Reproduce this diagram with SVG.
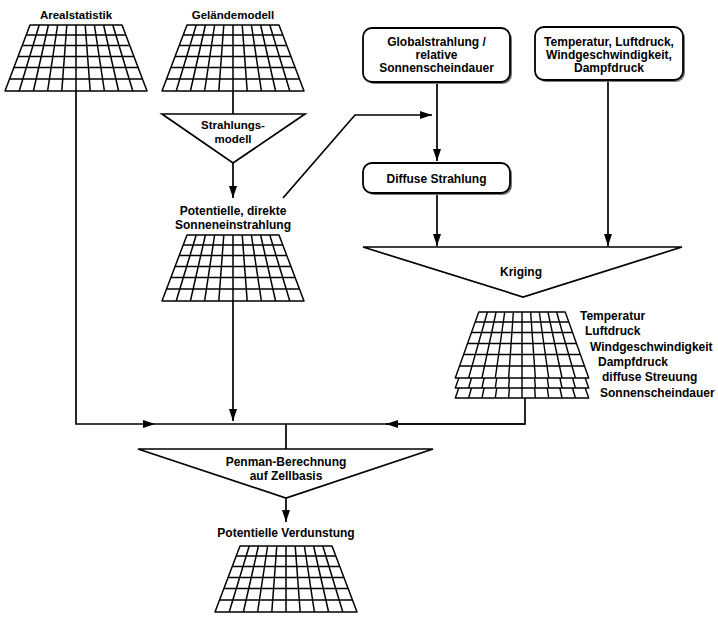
<svg xmlns="http://www.w3.org/2000/svg" xmlns:xlink="http://www.w3.org/1999/xlink" width="718" height="624" viewBox="0 0 718 624">
  <style>
    text { font-family: "Liberation Sans", Arial, sans-serif; font-weight: bold; font-size: 12px; fill: #000; }
    .mid { text-anchor: middle; }
    .head { font-size: 11.5px; }
    .small { font-size: 11.5px; }
    .grid { fill: #fff; stroke: #000; stroke-width: 1.5; stroke-linejoin: round; }
    .shape { fill: #fff; stroke: #000; stroke-width: 1.7; stroke-linejoin: miter; }
    .box { fill: #fff; stroke: #000; stroke-width: 1.8; }
    .shadow { fill: #7a7a7a; }
    .wire { fill: none; stroke: #000; stroke-width: 1.7; }
  </style>
  <defs>
    <!-- raster grid drawn in perspective, anchored at the centre of its top edge -->
    <g id="grid">
      <path class="grid" d="M-46,0 H46 L71,66 H-71 Z"/>
      <path class="grid" fill="none" d="M-49.8,10 H49.8 M-53.8,20.5 H53.8 M-57.9,31.5 H57.9 M-62.1,42.5 H62.1 M-66.5,54 H66.5
        M-36.8,0 L-56.8,66 M-27.6,0 L-42.6,66 M-18.4,0 L-28.4,66 M-9.2,0 L-14.2,66 M0,0 V66
        M9.2,0 L14.2,66 M18.4,0 L28.4,66 M27.6,0 L42.6,66 M36.8,0 L56.8,66"/>
    </g>
    <marker id="arrow" markerUnits="userSpaceOnUse" viewBox="0 0 12 8" refX="12" refY="4" markerWidth="12" markerHeight="8" orient="auto">
      <path d="M0,0 L12,4 L0,8 Z" fill="#000"/>
    </marker>
  </defs>

  <!-- connectors -->
  <g id="connectors">
    <path class="wire" d="M76,91 V424 H155" marker-end="url(#arrow)"/>
    <path class="wire" d="M155,424 H525"/>
    <path class="wire" d="M525,398 V424 H386" marker-end="url(#arrow)"/>
    <path class="wire" d="M233,91 V114"/>
    <path class="wire" d="M233,163 V198" marker-end="url(#arrow)"/>
    <path class="wire" d="M233,300 V421" marker-end="url(#arrow)"/>
    <path class="wire" d="M283,198 L355,115 H432" marker-end="url(#arrow)"/>
    <path class="wire" d="M437,82 V161" marker-end="url(#arrow)"/>
    <path class="wire" d="M437,193 V246" marker-end="url(#arrow)"/>
    <path class="wire" d="M608,80 V246" marker-end="url(#arrow)"/>
    <path class="wire" d="M286,424 V449"/>
    <path class="wire" d="M286,498 V522" marker-end="url(#arrow)"/>
  </g>

  <g id="arealstatistik">
    <text class="mid head" x="76" y="19">Arealstatistik</text>
    <use xlink:href="#grid" transform="translate(76,25)"/>
  </g>

  <g id="gelaendemodell">
    <text class="mid head" x="233" y="19">Geländemodell</text>
    <use xlink:href="#grid" transform="translate(233,25)"/>
  </g>

  <g id="strahlungsmodell">
    <path class="shape" d="M162,114 H305 L233,163 Z"/>
    <text class="mid small" x="233" y="129">Strahlungs-</text>
    <text class="mid small" x="233" y="143">modell</text>
  </g>

  <g id="direkte-einstrahlung">
    <text class="mid" x="233" y="215">Potentielle, direkte</text>
    <text class="mid" x="233" y="229">Sonneneinstrahlung</text>
    <use xlink:href="#grid" transform="translate(233,235)"/>
  </g>

  <g id="globalstrahlung">
    <rect class="shadow" x="365" y="30" width="147" height="54" rx="9"/>
    <rect class="box" x="363" y="28" width="147" height="54" rx="9"/>
    <text class="mid" x="436.5" y="46">Globalstrahlung /</text>
    <text class="mid" x="436.5" y="59">relative</text>
    <text class="mid" x="436.5" y="72">Sonnenscheindauer</text>
  </g>

  <g id="klimadaten">
    <rect class="shadow" x="537" y="29" width="148" height="53" rx="9"/>
    <rect class="box" x="535" y="27" width="148" height="53" rx="9"/>
    <text class="mid" x="609" y="46">Temperatur, Luftdruck,</text>
    <text class="mid" x="609" y="59">Windgeschwindigkeit,</text>
    <text class="mid" x="609" y="72">Dampfdruck</text>
  </g>

  <g id="diffuse-strahlung">
    <rect class="shadow" x="365" y="165" width="147" height="30" rx="9"/>
    <rect class="box" x="363" y="163" width="147" height="30" rx="9"/>
    <text class="mid" x="436.5" y="183">Diffuse Strahlung</text>
  </g>

  <g id="kriging">
    <path class="shape" d="M363,247 H682 L523,297 Z"/>
    <text class="mid" x="521" y="276">Kriging</text>
  </g>

  <g id="rasterstapel">
    <use xlink:href="#grid" transform="translate(522,332) scale(0.94,1)"/>
    <use xlink:href="#grid" transform="translate(522,322) scale(0.94,1)"/>
    <use xlink:href="#grid" transform="translate(522,312) scale(0.94,1)"/>
    <text x="580" y="320">Temperatur</text>
    <text x="585" y="335">Luftdruck</text>
    <text x="590" y="351">Windgeschwindigkeit</text>
    <text x="598" y="366">Dampfdruck</text>
    <text x="602" y="381">diffuse Streuung</text>
    <text x="600" y="397">Sonnenscheindauer</text>
  </g>

  <g id="penman">
    <path class="shape" d="M138,449 H433 L286,498 Z"/>
    <text class="mid" x="286" y="466">Penman-Berechnung</text>
    <text class="mid" x="286" y="480">auf Zellbasis</text>
  </g>

  <g id="verdunstung">
    <text class="mid" x="286" y="537">Potentielle Verdunstung</text>
    <use xlink:href="#grid" transform="translate(286,546)"/>
  </g>
</svg>
